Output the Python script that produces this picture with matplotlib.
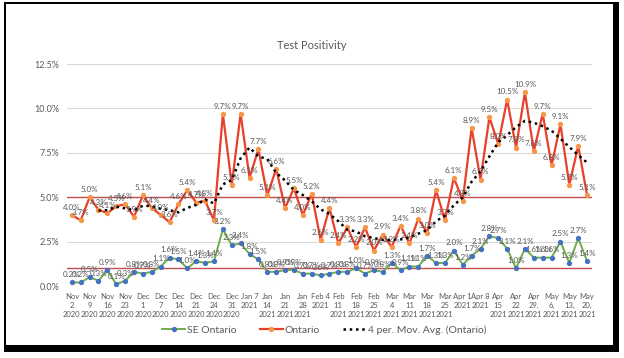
import matplotlib
matplotlib.use("Agg")
import matplotlib.pyplot as plt
from matplotlib.patches import Rectangle
import numpy as np

plt.rcParams['font.family'] = ['Lato', 'DejaVu Sans']

# weekly-ish test positivity values (%)
ontario = [4.0, 3.7, 5.0, 4.3, 4.1, 4.5, 4.6, 3.9, 5.1, 4.4,
           4.0, 3.6, 4.6, 5.4, 4.7, 4.8, 3.7, 9.7, 5.7, 9.7,
           6.1, 7.7, 5.1, 6.6, 4.4, 5.5, 4.0, 5.2, 2.6, 4.4,
           2.4, 3.3, 2.2, 3.3, 2.0, 2.9, 2.2, 3.4, 2.4, 3.8,
           3.0, 5.4, 3.7, 6.1, 4.8, 8.9, 6.0, 9.5, 8.0, 10.5,
           7.8, 10.9, 7.6, 9.7, 6.8, 9.1, 5.7, 7.9, 5.1]
se_ontario = [0.2, 0.2, 0.5, 0.3, 0.9, 0.1, 0.3, 0.8, 0.7, 0.8,
              1.1, 1.6, 1.5, 1.0, 1.4, 1.3, 1.4, 3.2, 2.3, 2.4,
              1.8, 1.5, 0.8, 0.8, 0.9, 0.9, 0.7, 0.7, 0.6, 0.7,
              0.8, 0.8, 1.0, 0.7, 0.9, 0.8, 1.3, 0.9, 1.1, 1.1,
              1.7, 1.3, 1.3, 2.0, 1.2, 1.7, 2.1, 2.8, 2.7, 2.1,
              1.0, 2.1, 1.6, 1.6, 1.6, 2.5, 1.3, 2.7, 1.4]
tick_labels = ["Nov\n2\n2020", "Nov\n9\n2020", "Nov\n16\n2020", "Nov\n23\n2020",
               "Dec\n1\n2020", "Dec\n7\n2020", "Dec\n14\n2020", "Dec\n21\n2020",
               "Dec\n24\n2020", "Dec\n31\n2020", "Jan 7\n2021", "Jan\n14\n2021",
               "Jan\n21\n2021", "Jan\n28\n2021", "Feb 4\n2021", "Feb\n11\n2021",
               "Feb\n18\n2021", "Feb\n25\n2021", "Mar\n4\n2021", "Mar\n11\n2021",
               "Mar\n18\n2021", "Mar\n25\n2021", "Apr 1\n2021", "Apr 8\n2021",
               "Apr\n15\n2021", "Apr\n22\n2021", "Apr\n29.\n2021", "May\n6,\n2021",
               "May\n13,\n2021", "May\n20,\n2021"]
targets = [5.0, 1.0]

x = np.arange(len(ontario))
mov_avg = np.convolve(ontario, np.ones(4) / 4, mode="valid")

fig = plt.figure(figsize=(6.24, 3.58), dpi=100)
# screenshot frame
fig.patches.append(Rectangle((4 / 624, 6 / 358), 615 / 624, 350 / 358,
                             transform=fig.transFigure, facecolor="black", zorder=-2))
fig.patches.append(Rectangle((6 / 624, 13 / 358), 607 / 624, 341 / 358,
                             transform=fig.transFigure, facecolor="white", zorder=-1))

ax = fig.add_axes([0.108, 0.201, 0.84, 0.62])
ax.set_facecolor("none")

grey = "#595959"
for t in targets:
    ax.axhline(t, color="#C0504D", lw=1.0, zorder=2)

ax.plot(x, se_ontario, color="#70AD47", lw=1.4, marker="o", ms=2.8,
        mfc="#4472C4", mec="#4472C4", label="SE Ontario", zorder=4)
ax.plot(x, ontario, color="#E8402A", lw=1.6, marker="o", ms=2.8,
        mfc="#F79646", mec="#F79646", label="Ontario", zorder=5)
ax.plot(x[3:], mov_avg, color="black", lw=1.8, ls=(0, (1, 1.5)),
        label="4 per. Mov. Avg. (Ontario)", zorder=6)

for xi, v in zip(x, ontario):
    ax.annotate(f"{v:.1f}%", (xi, v), xytext=(0, 3), textcoords="offset points",
                ha="center", va="bottom", fontsize=5.8, color=grey, zorder=7)
for xi, v in zip(x, se_ontario):
    ax.annotate(f"{v:.1f}%", (xi, v), xytext=(0, 3), textcoords="offset points",
                ha="center", va="bottom", fontsize=5.8, color=grey, zorder=7)

ax.set_xlim(-0.5, len(x) - 0.5)
ax.set_ylim(0, 12.5)
ax.set_yticks(np.arange(0, 12.6, 2.5))
ax.set_yticklabels([f"{v:.1f}%" for v in np.arange(0, 12.6, 2.5)])
ax.set_xticks(x[::2])
ax.set_xticklabels(tick_labels, linespacing=1.35)
ax.tick_params(axis="both", length=0, colors=grey, labelsize=5.5)
ax.tick_params(axis="x", pad=5)
ax.tick_params(axis="y", labelsize=6.5, pad=6)
ax.grid(axis="y", color="#D9D9D9", lw=0.8)
ax.set_axisbelow(True)
for s in ax.spines.values():
    s.set_visible(False)

fig.text(0.5, 0.872, "Test Positivity", ha="center", va="center",
         fontsize=8, color=grey)
fig.legend(loc="center", bbox_to_anchor=(0.52, 0.078), ncol=3, frameon=False,
           fontsize=7.5, labelcolor=grey, handlelength=2.2, columnspacing=2.2,
           handletextpad=0.2)

fig.savefig("out.png", dpi=100, facecolor="white")
